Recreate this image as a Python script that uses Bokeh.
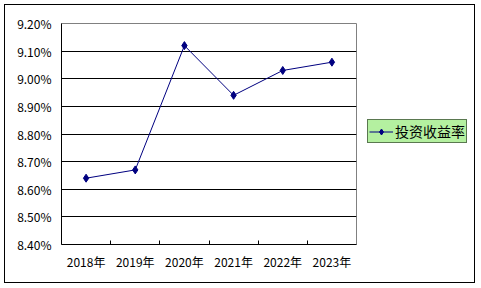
from bokeh.plotting import figure
from bokeh.layouts import row
from bokeh.models import (FixedTicker, PrintfTickFormatter, Legend, LegendItem,
                          Range1d)
from bokeh.embed import file_html
from bokeh.resources import INLINE

categories = ["2018年", "2019年", "2020年", "2021年", "2022年", "2023年"]
values = [8.64, 8.67, 9.12, 8.94, 9.03, 9.06]
y_ticks = [8.4, 8.5, 8.6, 8.7, 8.8, 8.9, 9.0, 9.1, 9.2]
series_name = "投资收益率"

FONT = "Noto Sans CJK SC"
LINE_COLOR = "#000080"
xs = [i + 0.5 for i in range(len(categories))]

p = figure(width=360, height=287, output_backend="svg", toolbar_location=None,
           x_range=Range1d(0, len(categories)), y_range=Range1d(8.4, 9.2),
           min_border_left=61, min_border_right=4, min_border_top=23,
           min_border_bottom=43)
p.background_fill_color = "white"
p.border_fill_alpha = 0
p.outline_line_color = "#808080"
p.outline_line_width = 1

p.line(xs, values, line_color=LINE_COLOR, line_width=1)
p.scatter(xs, values, marker="diamond", size=8, fill_color=LINE_COLOR,
          line_color=LINE_COLOR)

# x axis
xa = p.xaxis[0]
xa.ticker = FixedTicker(ticks=xs, minor_ticks=list(range(1, len(categories))))
xa.major_label_overrides = {x: c for x, c in zip(xs, categories)}
xa.major_tick_in = 0
xa.major_tick_out = 0
xa.minor_tick_in = 4
xa.minor_tick_out = 0
xa.minor_tick_line_color = "black"
xa.axis_line_color = "black"
xa.major_label_text_font = FONT
xa.major_label_text_font_size = "12px"
xa.major_label_text_color = "black"
xa.major_label_standoff = 8

# y axis
ya = p.yaxis[0]
ya.ticker = FixedTicker(ticks=y_ticks)
ya.formatter = PrintfTickFormatter(format="%.2f%%")
ya.major_tick_in = 0
ya.major_tick_out = 0
ya.minor_tick_line_color = None
ya.axis_line_color = "black"
ya.major_label_text_font = FONT
ya.major_label_text_font_size = "12px"
ya.major_label_text_color = "black"
ya.major_label_standoff = 10

p.xgrid.visible = False
p.ygrid.ticker = FixedTicker(ticks=y_ticks[1:-1])
p.ygrid.grid_line_color = "black"
p.ygrid.grid_line_width = 1

# legend figure (its frame is aligned with the main frame by the row)
q = figure(width=119, height=287, output_backend="svg", toolbar_location=None,
           x_range=Range1d(0, 1), y_range=Range1d(0, 1),
           min_border=0)
q.axis.visible = False
q.grid.visible = False
q.outline_line_color = None
q.background_fill_alpha = 0
q.border_fill_alpha = 0
# same series drawn off-range in the legend panel, only for the legend swatch
lr = q.line(xs, values, line_color=LINE_COLOR, line_width=1)
sr = q.scatter(xs, values, marker="diamond", size=8, fill_color=LINE_COLOR,
               line_color=LINE_COLOR)
legend = Legend(items=[LegendItem(label=series_name, renderers=[lr, sr])],
                location=(7, 101))
legend.background_fill_color = "#b4f0a0"
legend.background_fill_alpha = 1
legend.border_line_color = "black"
legend.border_line_width = 1
legend.label_text_font = FONT
legend.label_text_font_size = "14px"
legend.label_text_color = "black"
legend.padding = 1
legend.margin = 0
legend.spacing = 0
legend.glyph_width = 24
legend.glyph_height = 15
legend.label_standoff = 2
legend.label_height = 15
q.add_layout(legend, "center")

layout = row(p, q, spacing=0,
             styles={"outline": "1px solid black", "outline-offset": "-5px",
                     "background": "white"})

open("out.html", "w").write(file_html(layout, INLINE))
